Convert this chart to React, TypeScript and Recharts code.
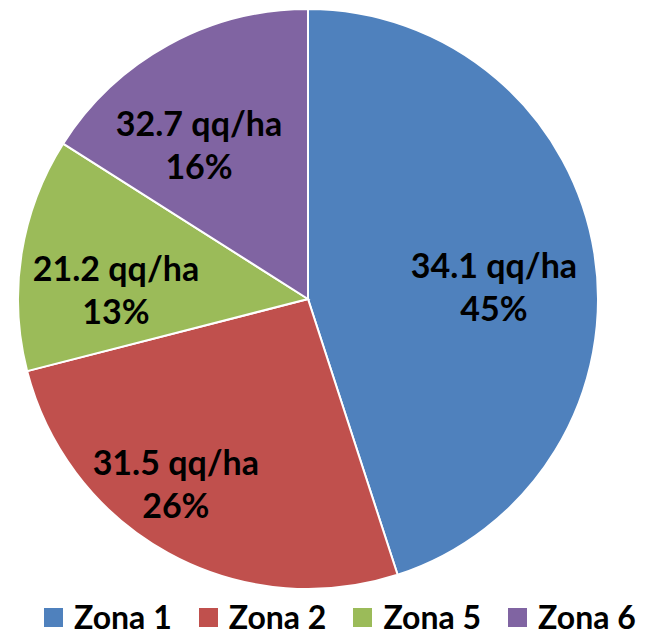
import React from 'react';
import { PieChart, Pie, Cell, Legend } from 'recharts';

const zones = ['Zona 1', 'Zona 2', 'Zona 5', 'Zona 6'];
const yields = [34.1, 31.5, 21.2, 32.7];
const shares = [45, 26, 13, 16];
const colors = ['#4F81BD', '#C0504D', '#9BBB59', '#8064A2'];

const data = zones.map((name, i) => ({ name, yieldValue: yields[i], share: shares[i] }));

const FONT = 'Lato, "Open Sans", sans-serif';
const RAD = Math.PI / 180;
const labelRadius = [0.643, 0.781, 0.663, 0.655];
const labelShift = [4.7, 6.9, -5.9, -6.2];

function renderLabel(props: any) {
  const { cx, cy, midAngle, outerRadius, index } = props;
  const r = outerRadius * labelRadius[index];
  const a = midAngle - labelShift[index];
  const x = cx + r * Math.cos(-a * RAD);
  const y = cy + r * Math.sin(-a * RAD);
  return (
    <text
      x={x}
      y={y}
      textAnchor="middle"
      dominantBaseline="central"
      fontFamily={FONT}
      fontWeight={700}
      fontSize={34}
      fill="#000"
    >
      <tspan x={x} dy={-21.5}>{`${yields[index]} qq/ha`}</tspan>
      <tspan x={x} dy={43}>{`${shares[index]}%`}</tspan>
    </text>
  );
}

function renderLegend(props: any) {
  const payload = props.payload || [];
  return (
    <div style={{ display: 'flex', alignItems: 'center', paddingLeft: 36, fontFamily: FONT, whiteSpace: 'nowrap' }}>
      {payload.map((e: any, i: number) => (
        <div key={i} style={{ display: 'flex', alignItems: 'center', marginRight: 27, flexShrink: 0 }}>
          <span style={{ display: 'inline-block', width: 19, height: 19, background: colors[i], marginRight: 11 }} />
          <span style={{ fontSize: 32, fontWeight: 700, color: '#000', lineHeight: 0.9 }}>{e.value}</span>
        </div>
      ))}
    </div>
  );
}

export default function App() {
  return (
    <PieChart width={638} height={627} margin={{ top: 0, right: 0, bottom: 0, left: 0 }}>
      <Pie
        data={data}
        dataKey="share"
        nameKey="name"
        cx={300}
        cy={291}
        outerRadius={290}
        startAngle={90}
        endAngle={-270}
        stroke="#fff"
        strokeWidth={2}
        label={renderLabel}
        labelLine={false}
        isAnimationActive={false}
      >
        {data.map((d, i) => (
          <Cell key={d.name} fill={colors[i]} />
        ))}
      </Pie>
      <Legend content={renderLegend} wrapperStyle={{ top: 595, left: 0, width: 660 }} />
    </PieChart>
  );
}
